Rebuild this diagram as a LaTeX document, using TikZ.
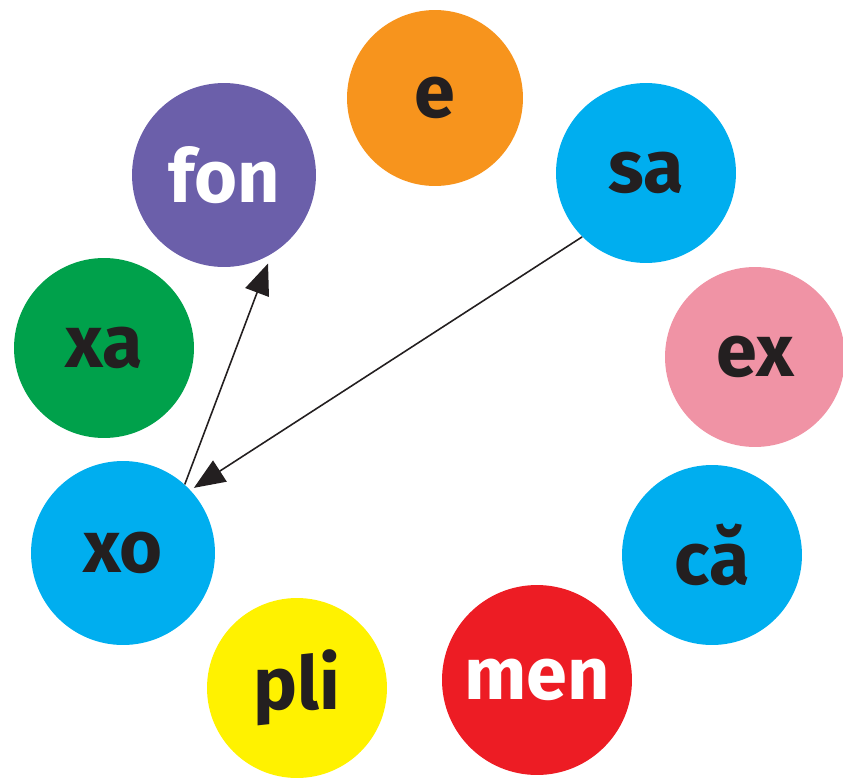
\documentclass[tikz,border=0pt]{standalone}
\usepackage{fontspec}
\setmainfont{Fira Sans}
\usepackage{xcolor}
\usepackage{tikz}
\usetikzlibrary{arrows.meta}
\definecolor{ink}{HTML}{231F20}
\definecolor{ballorange}{HTML}{F7941D}
\definecolor{ballpurple}{HTML}{6B5FAA}
\definecolor{ballblue}{HTML}{00AEEF}
\definecolor{ballgreen}{HTML}{00A14B}
\definecolor{ballpink}{HTML}{F093A5}
\definecolor{ballred}{HTML}{ED1C24}
\definecolor{ballyellow}{HTML}{FFF200}
\tikzset{
  ball/.style={circle, inner sep=0pt, minimum size=3.6cm, text=ink,
               font=\fontsize{42}{48}\selectfont\bfseries},
  orangeball/.style={ball, fill=ballorange},
  purpleball/.style={ball, fill=ballpurple, text=white},
  blueball/.style={ball, fill=ballblue},
  greenball/.style={ball, fill=ballgreen},
  pinkball/.style={ball, fill=ballpink},
  redball/.style={ball, fill=ballred, text=white},
  yellowball/.style={ball, fill=ballyellow},
  arrow/.style={-{Triangle[length=6.2mm,width=5mm]}, line width=0.9pt, draw=ink, fill=ink}
}
\begin{document}
\begin{tikzpicture}[x=0.02cm, y=-0.02cm]
  \useasboundingbox (0,0) rectangle (843,782);
  \node[orangeball, minimum size=3.52cm] (e) at (435,98) {e};
  \node[purpleball, minimum size=3.68cm] (fon) at (224,175) {fon};
  \node[blueball] (sa) at (646,173) {sa};
  \node[greenball] (xa) at (104,348) {xa};
  \node[pinkball] (ex) at (755,357) {ex};
  \node[blueball, minimum size=3.68cm] (xo) at (123,553) {xo};
  \node[blueball] (ca) at (712,555) {că};
  \node[yellowball] (pli) at (297,688) {pli};
  \node[redball, minimum size=3.8cm] (men) at (537,680) {men};
  \draw[arrow, shorten >=0.08cm] (sa.225) -- (xo.43);
  \draw[arrow, shorten >=0.2cm] (xo.48) -- (fon.-59);
\end{tikzpicture}
\end{document}
